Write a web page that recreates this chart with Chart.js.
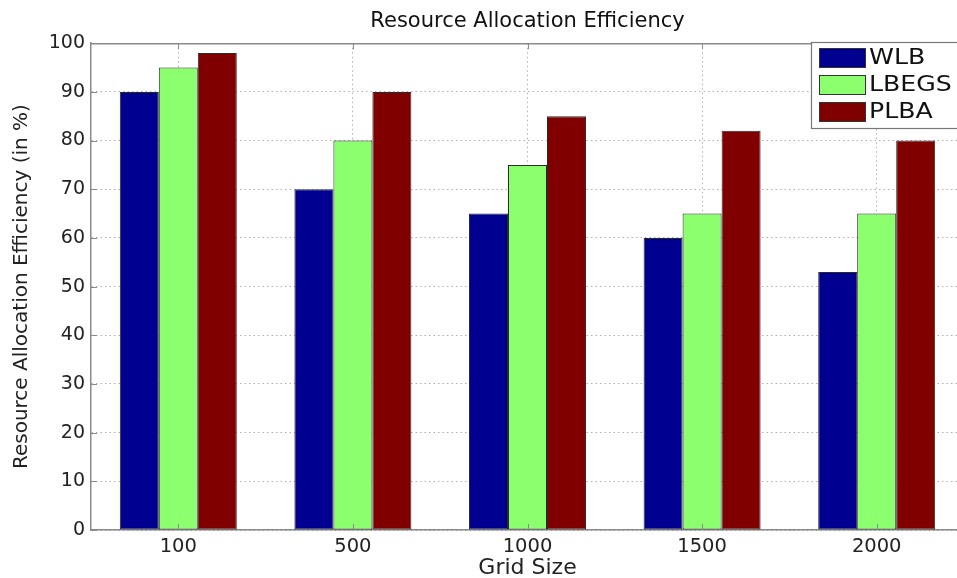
<!DOCTYPE html>
<html>
<head>
<meta charset="utf-8">
<script src="https://cdn.jsdelivr.net/npm/chart.js@4/dist/chart.umd.min.js"></script>
<style>
html,body{margin:0;padding:0;background:#fff;overflow:hidden;width:957px;height:578px;}
#wrap{width:975px;height:578px;}
</style>
</head>
<body>
<div id="wrap"><canvas id="c" width="975" height="578"></canvas></div>
<script>
const categories = ['100', '500', '1000', '1500', '2000'];
const seriesNames = ['WLB', 'LBEGS', 'PLBA'];
const wlb = [90, 70, 65, 60, 53];
const lbegs = [95, 80, 75, 65, 65];
const plba = [98, 90, 85, 82, 80];
const seriesColors = ['#000090', '#8CFF6E', '#800000'];
const yTicks = [0, 10, 20, 30, 40, 50, 60, 70, 80, 90, 100];

const FONT = '"DejaVu Sans", "Liberation Sans", Arial, sans-serif';
const AXIS = '#8a8a8a';

const frameLegend = {
  id: 'frameLegend',
  afterDatasetsDraw(chart) {
    const ctx = chart.ctx;
    const a = chart.chartArea;
    const xs = chart.scales.x, ys = chart.scales.y;
    ctx.save();
    // axes box top line
    ctx.strokeStyle = AXIS;
    ctx.lineWidth = 1.5;
    ctx.beginPath();
    ctx.moveTo(a.left, a.top + 0.5);
    ctx.lineTo(a.right, a.top + 0.5);
    ctx.stroke();
    // inward tick marks
    ctx.lineWidth = 1;
    ctx.beginPath();
    ys.ticks.forEach(t => {
      const y = Math.round(ys.getPixelForValue(t.value)) + 0.5;
      ctx.moveTo(a.left, y); ctx.lineTo(a.left + 6, y);
    });
    xs.ticks.forEach((t, i) => {
      const x = Math.round(xs.getPixelForTick(i)) + 0.5;
      ctx.moveTo(x, a.bottom); ctx.lineTo(x, a.bottom - 6);
      ctx.moveTo(x, a.top); ctx.lineTo(x, a.top + 6);
    });
    ctx.stroke();
    // legend
    const bx = 811, by = 42, bw = 170, bh = 86;
    ctx.fillStyle = '#fff';
    ctx.fillRect(bx, by, bw, bh);
    ctx.strokeStyle = '#777';
    ctx.lineWidth = 1.2;
    ctx.strokeRect(bx + 0.5, by + 0.5, bw, bh);
    ctx.textBaseline = 'middle';
    chart.data.datasets.forEach((ds, i) => {
      const cy = by + 16 + i * 27;
      ctx.fillStyle = ds.backgroundColor;
      ctx.fillRect(819, cy - 10, 47, 20);
      ctx.strokeStyle = '#333';
      ctx.lineWidth = 1;
      ctx.strokeRect(819.5, cy - 9.5, 46, 19);
      ctx.save();
      ctx.translate(869, cy + 1);
      ctx.scale(1.2, 1);
      ctx.font = '21px ' + FONT;
      ctx.fillStyle = '#111';
      ctx.fillText(ds.label, 0, 0);
      ctx.restore();
    });
    ctx.restore();
  }
};

new Chart(document.getElementById('c'), {
  type: 'bar',
  data: {
    labels: categories,
    datasets: [
      { label: seriesNames[0], data: wlb, backgroundColor: seriesColors[0] },
      { label: seriesNames[1], data: lbegs, backgroundColor: seriesColors[1] },
      { label: seriesNames[2], data: plba, backgroundColor: seriesColors[2] }
    ]
  },
  options: {
    responsive: false,
    animation: false,
    devicePixelRatio: 1,
    layout: { padding: { left: 0, right: 11, top: 0, bottom: 0 } },
    datasets: {
      bar: {
        categoryPercentage: 0.67,
        barPercentage: 1.0,
        borderWidth: 1,
        borderColor: '#2a2a2a',
        borderSkipped: false
      }
    },
    plugins: {
      legend: { display: false },
      tooltip: { enabled: false },
      title: {
        display: true,
        fullSize: false,
        text: 'Resource Allocation Efficiency',
        color: '#111',
        font: { family: FONT, size: 21, weight: 'normal' },
        padding: { top: 9, bottom: 9 }
      }
    },
    scales: {
      x: {
        grid: { display: true, offset: false, color: '#b0b0b0', drawTicks: false, lineWidth: 1 },
        border: { display: true, color: AXIS, width: 1.5, dash: [1.5, 3] },
        ticks: { color: '#222', font: { family: FONT, size: 19.5 }, padding: 5, maxRotation: 0 },
        title: { display: true, text: 'Grid Size', color: '#222', font: { family: FONT, size: 22 }, padding: { top: 0, bottom: -3 } },
        afterFit(scale) { scale.height = 48; }
      },
      y: {
        min: 0,
        max: 100,
        afterBuildTicks(scale) { scale.ticks = yTicks.map(v => ({ value: v })); },
        grid: { display: true, color: '#b0b0b0', drawTicks: false, lineWidth: 1 },
        border: { display: true, color: AXIS, width: 1.5, dash: [1.5, 3] },
        ticks: { color: '#222', font: { family: FONT, size: 19 }, padding: 6 },
        title: { display: true, text: 'Resource Allocation Efficiency (in %)', color: '#222', font: { family: FONT, size: 20 }, padding: { top: 10, bottom: 0 } },
        afterFit(scale) { scale.width = 91; }
      }
    }
  },
  plugins: [frameLegend]
});
</script>
</body>
</html>
